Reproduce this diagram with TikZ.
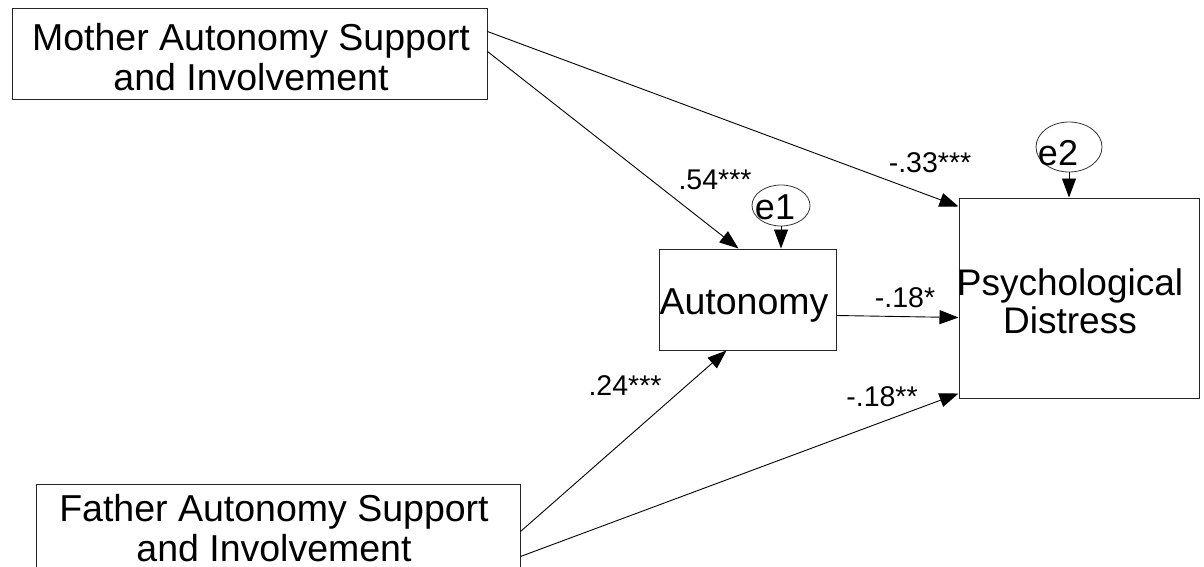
\documentclass[tikz,border=0pt]{standalone}
\usepackage{fontspec}
\setmainfont{Liberation Sans}
\usetikzlibrary{arrows.meta,shapes.geometric}
\begin{document}
\begin{tikzpicture}[x=1pt,y=-1pt,
  box/.style={draw=black!85, line width=1pt, inner sep=0pt},
  err/.style={draw=black!80, ellipse, line width=0.8pt, inner sep=0pt},
  main/.style={font=\fontsize{37.5}{40}\selectfont, align=center, inner sep=0pt},
  etext/.style={font=\fontsize{36}{40}\selectfont, inner sep=0pt},
  coef/.style={font=\fontsize{28.5}{32}\selectfont, inner sep=0pt},
  effect/.style={line width=0.9pt, -{Triangle[length=19pt,width=14pt]}}]
\useasboundingbox (0,0) rectangle (1204,567);
\clip (0,0) rectangle (1204,567);

% observed variables
\node[box, minimum width=475pt, minimum height=91pt] (mother) at (249.5,54.5) {};
\node[main] (mothertxt) at (251,57) {Mother Autonomy Support\\and Involvement};

\node[box, minimum width=484pt, minimum height=92pt] (father) at (278,530) {};
\node[main] (fathertxt) at (274,528) {Father Autonomy Support\\and Involvement};

\node[box, minimum width=177pt, minimum height=101pt] (auto) at (747.5,299.5) {};
\node[main] (autotxt) at (744,305) {Autonomy};

\node[box, minimum width=240pt, minimum height=200pt] (psych) at (1079,298) {};
\node[main, align=center, font=\fontsize{37}{38}\selectfont] (psychtxt) at (1070,301) {Psychological\\Distress};

% residual terms
\node[err, minimum width=58pt, minimum height=41pt] (e1) at (781,205.5) {};
\node[etext] (e1txt) at (775,207.5) {e1};
\node[err, minimum width=66pt, minimum height=50pt] (e2) at (1069,147) {};
\node[etext] (e2txt) at (1058,153) {e2};

% paths
\draw[effect] ([yshift=-23pt]mother.north east) -- ([yshift=-9pt]psych.north west);
\draw[effect] ([yshift=-43pt]mother.north east) -- ([xshift=80pt]auto.north west);
\draw[effect] ([yshift=-67pt]auto.north east) -- ([yshift=-120pt]psych.north west);
\draw[effect] ([yshift=-48pt]father.north east) -- ([xshift=68pt]auto.south west);
\draw[effect] ([yshift=-73pt]father.north east) -- ([yshift=5pt]psych.south west);
\draw[effect] (e1.south) -- (e1.south |- auto.north);
\draw[effect] (e2.south) -- (e2.south |- psych.north);

% coefficients
\node[coef] (c1) at (715,180) {.54***};
\node[coef] (c2) at (930,163) {-.33***};
\node[coef] (c3) at (905,298) {-.18*};
\node[coef] (c4) at (625,386) {.24***};
\node[coef] (c5) at (882,397) {-.18**};
\end{tikzpicture}
\end{document}
